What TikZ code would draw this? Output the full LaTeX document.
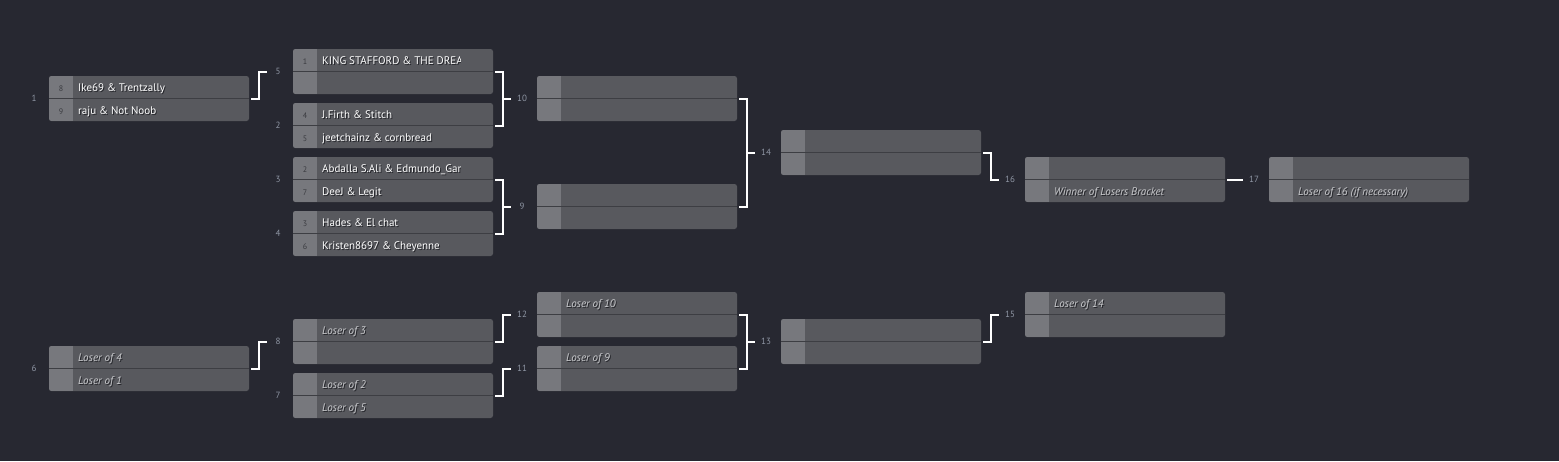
\documentclass[tikz,border=0pt]{standalone}
\usepackage{fontspec}
\setmainfont{PT Sans}
\usetikzlibrary{calc}
\definecolor{bg}{HTML}{272831}
\definecolor{boxc}{HTML}{58595E}
\definecolor{seedc}{HTML}{77787D}
\definecolor{divc}{HTML}{3D3E43}
\definecolor{lblc}{HTML}{8F96A4}
\definecolor{seedtxt}{HTML}{3A3B40}
\definecolor{itc}{HTML}{C9CACD}
\definecolor{shad}{HTML}{202126}
\newcommand{\lose}[1]{\itshape #1}
\tikzset{
  matchbox/.style={minimum width=200pt, minimum height=45pt, inner sep=0pt, outer sep=0pt, fill=boxc, rounded corners=2.5pt, anchor=north west},
  seednum/.style={font=\fontsize{8}{8}\selectfont, text=seedtxt, anchor=base, inner sep=0pt},
  nametxt/.style={font=\fontsize{11}{11}\selectfont, anchor=base west, inner sep=0pt},
  lbl/.style={font=\fontsize{9}{9}\selectfont, text=lblc, inner sep=0pt},
  conn/.style={draw=white, line width=2pt},
}
\newcommand{\txtA}{white}
\newcommand{\txtB}{white}
\newcommand{\whitetexts}{\renewcommand{\txtA}{white}\renewcommand{\txtB}{white}}
\newcommand{\greytexts}{\renewcommand{\txtA}{itc}\renewcommand{\txtB}{itc}}
% name, x, y, label, seedA, textA, seedB, textB
\newcommand{\bmatch}[8]{%
  \node[matchbox] (#1) at (#2,#3) {};
  \begin{scope}
    \clip[rounded corners=2.5pt] (#1.north west) rectangle (#1.south east);
    \fill[seedc] (#1.north west) rectangle ($(#1.south west)+(24,0)$);
  \end{scope}
  \draw[divc, line width=1.2pt] (#1.west) -- (#1.east);
  \node[seednum] (#1sa) at ($(#1.north west)+(12,15.5)$) {#5};
  \node[seednum] (#1sb) at ($(#1.north west)+(12,38)$) {#7};
  \begin{scope}
    \clip ($(#1.north west)+(24,0)$) rectangle ($(#1.south east)+(-33,0)$);
    \node[nametxt, text=shad] (#1xa) at ($(#1.north west)+(30,16.6)$) {#6};
    \node[nametxt, text=shad] (#1xb) at ($(#1.north west)+(30,39.1)$) {#8};
    \node[nametxt, text=\txtA] (#1ta) at ($(#1.north west)+(29,15.7)$) {#6};
    \node[nametxt, text=\txtB] (#1tb) at ($(#1.north west)+(29,38.2)$) {#8};
  \end{scope}
  \node[lbl] (#1l) at ($(#1.west)+(-15,0)$) {#4};
}
\begin{document}
\begin{tikzpicture}[x=1pt,y=-1pt]
\useasboundingbox (0,0) rectangle (1559,461);
\fill[bg] (0,0) rectangle (1559,461);
% winners bracket
\whitetexts
\bmatch{m1}{49}{76}{1}{8}{Ike69 \& Trentzally}{9}{raju \& Not Noob}
\bmatch{m5}{293}{49}{5}{1}{KING STAFFORD \& THE DREAM TEAM}{}{}
\bmatch{m2}{293}{103}{2}{4}{J.Firth \& Stitch}{5}{jeetchainz \& cornbread}
\bmatch{m3}{293}{157}{3}{2}{Abdalla S.Ali \& Edmundo\_Garcia}{7}{DeeJ \& Legit}
\bmatch{m4}{293}{211}{4}{3}{Hades \& El chat}{6}{Kristen8697 \& Cheyenne}
\bmatch{m10}{537}{76}{10}{}{}{}{}
\bmatch{m9}{537}{184}{9}{}{}{}{}
\bmatch{m14}{781}{130}{14}{}{}{}{}
\greytexts
\bmatch{m16}{1025}{157}{16}{}{}{}{\lose{Winner of Losers Bracket}}
\bmatch{m17}{1269}{157}{17}{}{}{}{\lose{Loser of 16 (if necessary)}}
% losers bracket
\bmatch{m6}{49}{346}{6}{}{\lose{Loser of 4}}{}{\lose{Loser of 1}}
\bmatch{m8}{293}{319}{8}{}{\lose{Loser of 3}}{}{}
\bmatch{m7}{293}{373}{7}{}{\lose{Loser of 2}}{}{\lose{Loser of 5}}
\bmatch{m12}{537}{292}{12}{}{\lose{Loser of 10}}{}{}
\bmatch{m11}{537}{346}{11}{}{\lose{Loser of 9}}{}{}
\bmatch{m13}{781}{319}{13}{}{}{}{}
\bmatch{m15}{1025}{292}{15}{}{\lose{Loser of 14}}{}{}
% connectors
\draw[conn] ($(m1.east)+(2,0)$) -- ++(8,0) |- ($(m5.west)+(-26,0)$);
\draw[conn] ($(m5.east)+(2,0)$) -| ($(m2.east)+(10,0)$) -- ($(m2.east)+(2,0)$);
\draw[conn] ($(m5.east |- m10.west)+(10,0)$) -- ($(m10.west)+(-26,0)$);
\draw[conn] ($(m3.east)+(2,0)$) -| ($(m4.east)+(10,0)$) -- ($(m4.east)+(2,0)$);
\draw[conn] ($(m3.east |- m9.west)+(10,0)$) -- ($(m9.west)+(-26,0)$);
\draw[conn] ($(m10.east)+(2,0)$) -| ($(m9.east)+(10,0)$) -- ($(m9.east)+(2,0)$);
\draw[conn] ($(m10.east |- m14.west)+(10,0)$) -- ($(m14.west)+(-26,0)$);
\draw[conn] ($(m14.east)+(2,0)$) -- ++(8,0) |- ($(m16.west)+(-26,0)$);
\draw[conn] ($(m16.east)+(2,0)$) -- ($(m17.west)+(-26,0)$);
\draw[conn] ($(m6.east)+(2,0)$) -- ++(8,0) |- ($(m8.west)+(-26,0)$);
\draw[conn] ($(m8.east)+(2,0)$) -- ++(8,0) |- ($(m12.west)+(-26,0)$);
\draw[conn] ($(m7.east)+(2,0)$) -- ++(8,0) |- ($(m11.west)+(-26,0)$);
\draw[conn] ($(m12.east)+(2,0)$) -| ($(m11.east)+(10,0)$) -- ($(m11.east)+(2,0)$);
\draw[conn] ($(m12.east |- m13.west)+(10,0)$) -- ($(m13.west)+(-26,0)$);
\draw[conn] ($(m13.east)+(2,0)$) -- ++(8,0) |- ($(m15.west)+(-26,0)$);
\end{tikzpicture}
\end{document}
